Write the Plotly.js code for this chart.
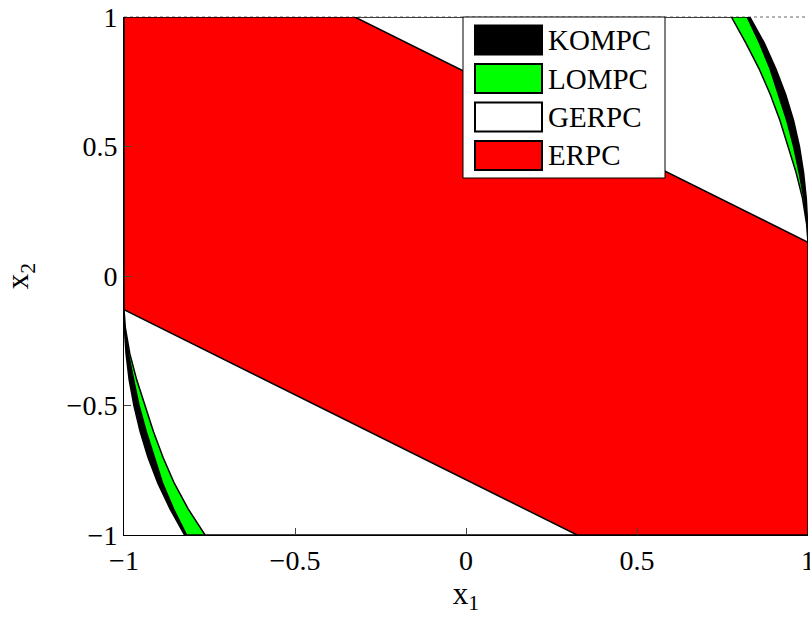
<!DOCTYPE html>
<html><head><meta charset="utf-8">
<script src="https://cdn.plot.ly/plotly-3.0.1.min.js"></script>
<style>html,body{margin:0;padding:0;background:#fff;} #chart{width:810px;height:626px;}</style>
</head><body><div id="chart"></div>
<script>
// ---- data ----
const axisRange = [-1, 1];
const tickValues = [-1, -0.5, 0, 0.5, 1];

// lower-left boundary curves (y values shared)
const leftY = [-0.13, -0.2, -0.3, -0.4, -0.5, -0.6, -0.7, -0.8, -0.9, -1.0];
const kompcLeftX = [-1.0, -0.999, -0.994, -0.985, -0.971, -0.953, -0.930, -0.901, -0.865, -0.823];
const lompcLeftX = [-1.0, -0.997, -0.987, -0.972, -0.956, -0.935, -0.912, -0.887, -0.855, -0.817];
const gerpcLeftX = [-1.0, -0.996, -0.983, -0.963, -0.938, -0.914, -0.886, -0.853, -0.812, -0.763];

// upper-right boundary curves
const rightY = [0.13, 0.2, 0.3, 0.4, 0.5, 0.6, 0.7, 0.8, 0.9, 1.0];
const kompcRightX = [1.0, 0.999, 0.995, 0.987, 0.975, 0.958, 0.935, 0.906, 0.872, 0.830];
const lompcRightX = [1.0, 0.997, 0.988, 0.974, 0.958, 0.938, 0.914, 0.889, 0.858, 0.822];
const gerpcRightX = [1.0, 0.996, 0.984, 0.965, 0.942, 0.918, 0.890, 0.857, 0.818, 0.776];

// ERPC band
const erpcX = [-1, -1, 0.325, 1, 1, -0.325];
const erpcY = [1, -0.13, -1, -1, 0.13, 1];

const seriesNames = ['KOMPC', 'LOMPC', 'GERPC', 'ERPC'];
const seriesColors = ['#000000', '#00ff00', '#ffffff', '#ff0000'];

// ---- build polygons ----
const lo = axisRange[0], hi = axisRange[1];
function region(leftX, rightX) {
  return {
    x: [lo].concat(leftX, [hi], rightX, [lo]),
    y: [hi].concat(leftY, [lo], rightY, [hi])
  };
}
const shapesData = [
  region(kompcLeftX, kompcRightX),
  region(lompcLeftX, lompcRightX),
  region(gerpcLeftX, gerpcRightX),
  {x: erpcX.concat([erpcX[0]]), y: erpcY.concat([erpcY[0]])}
];

const FONT = '"Liberation Serif", "Times New Roman", serif';
const traces = shapesData.map((d, i) => ({
  type: 'scatter', mode: 'lines', x: d.x, y: d.y,
  fill: 'toself', fillcolor: seriesColors[i],
  line: {color: '#000', width: 1.5},
  name: seriesNames[i], showlegend: false, hoverinfo: 'skip'
}));

// ---- layout ----
const W = 810, H = 626;
const M = {l: 124, r: 2, t: 17, b: 91};
const pw = W - M.l - M.r, ph = H - M.t - M.b;
const px = v => (v - M.l) / pw;
const py = v => (H - M.b - v) / ph;

const shapes = [
  {type: 'line', xref: 'paper', yref: 'paper', x0: 0, x1: 1, y0: 1, y1: 1,
   line: {color: '#666', width: 1, dash: 'dot'}, layer: 'below'},
  {type: 'rect', xref: 'paper', yref: 'paper', x0: px(463), x1: px(665), y0: py(178), y1: py(17),
   fillcolor: '#fff', line: {color: '#000', width: 1}, layer: 'above'}
];
const annotations = [];
const rowCenters = [40, 78.5, 117, 155.5];
seriesNames.forEach((n, i) => {
  const c = rowCenters[i];
  shapes.push({type: 'rect', xref: 'paper', yref: 'paper', x0: px(475), x1: px(542),
    y0: py(c + 14.5), y1: py(c - 14.5), fillcolor: seriesColors[i],
    line: {color: '#000', width: 2}, layer: 'above'});
  annotations.push({xref: 'paper', yref: 'paper', x: px(546), y: py(c), text: n,
    showarrow: false, xanchor: 'left', yanchor: 'middle',
    font: {family: FONT, size: 29, color: '#000'}});
});

const axisCommon = {
  range: axisRange, tickvals: tickValues, ticks: 'inside', ticklen: 7, tickwidth: 1,
  tickcolor: '#444', showline: true, linecolor: '#000', linewidth: 1,
  showgrid: false, zeroline: false, fixedrange: true, ticklabeloverflow: 'allow',
  tickfont: {family: FONT, size: 28, color: '#000'}
};
const layout = {
  width: W, height: H, margin: M, paper_bgcolor: '#fff', plot_bgcolor: '#fff',
  showlegend: false,
  xaxis: Object.assign({}, axisCommon, {
    title: {text: 'x<sub>1</sub>',
            font: {family: FONT, size: 31, color: '#000'}, standoff: 4}
  }),
  yaxis: Object.assign({}, axisCommon, {
    title: {text: 'x<sub>2</sub>',
            font: {family: FONT, size: 31, color: '#000'}, standoff: 28}
  }),
  shapes: shapes, annotations: annotations
};
Plotly.newPlot('chart', traces, layout, {staticPlot: true, displayModeBar: false});
</script></body></html>
